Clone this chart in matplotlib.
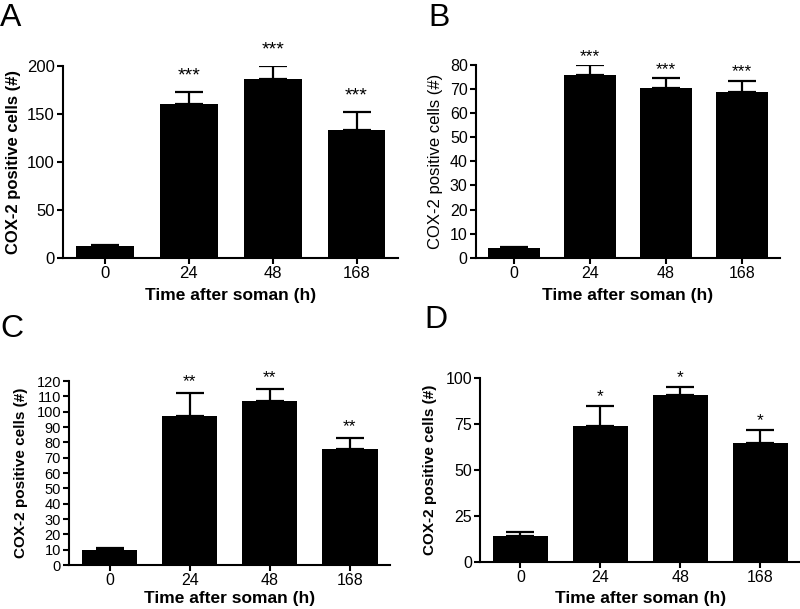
import matplotlib
matplotlib.use("Agg")
import matplotlib.pyplot as plt

plt.rcParams['font.family'] = ['Liberation Sans', 'DejaVu Sans']

timepoints = ["0", "24", "48", "168"]

# panel A
meansA = [12, 160, 186, 133]
errsA = [1, 13, 14, 19]
starsA = ["", "***", "***", "***"]

# panel B
meansB = [4, 76, 70.5, 69]
errsB = [0.5, 4, 4, 4.5]
starsB = ["", "***", "***", "***"]

# panel C
meansC = [10, 97, 107, 75.5]
errsC = [0.8, 15, 8, 7.5]
starsC = ["", "**", "**", "**"]

# panel D
meansD = [14, 74, 90.5, 64.5]
errsD = [2, 10.5, 4.5, 7]
starsD = ["", "*", "*", "*"]


def drawPanel(fig, rect, letter, letterPos, means, errs, stars, yticks, ymax,
              starOffset, starSize, ytickSize, xtickSize, ylabelSize, ylabelBold,
              ylabelX, xlabelPad):
    ax = fig.add_axes(rect)
    x = list(range(len(means)))
    ax.bar(x, means, width=0.69, color='black', zorder=2)
    ax.errorbar(x, means, yerr=[[0] * len(errs), errs], fmt='none',
                ecolor='black', elinewidth=1.6, capsize=10, capthick=1.6, zorder=1)
    for i in range(len(means)):
        if stars[i]:
            ax.text(x[i], means[i] + errs[i] + starOffset, stars[i],
                    ha='center', va='bottom', fontsize=starSize)
    ax.set_xlim(-0.5, 3.5)
    ax.set_ylim(0, ymax)
    ax.set_yticks(yticks)
    ax.set_xticks(x)
    ax.set_xticklabels(timepoints)
    ax.spines['top'].set_visible(False)
    ax.spines['right'].set_visible(False)
    ax.spines['left'].set_linewidth(1.5)
    ax.spines['bottom'].set_linewidth(1.5)
    ax.tick_params(axis='both', direction='out', length=4, width=1.5, pad=2)
    ax.tick_params(axis='y', labelsize=ytickSize)
    ax.tick_params(axis='x', labelsize=xtickSize)
    ax.set_xlabel("Time after soman (h)", fontsize=12.5, fontweight='bold',
                  labelpad=xlabelPad)
    ax.set_ylabel("COX-2 positive cells (#)", fontsize=ylabelSize,
                  fontweight='bold' if ylabelBold else 'normal')
    ax.yaxis.set_label_coords(ylabelX, 0.5)
    fig.text(letterPos[0], letterPos[1], letter, fontsize=23, ha='left', va='top')
    return ax


fig = plt.figure(figsize=(8, 6.09), dpi=100)

drawPanel(fig, [0.079, 0.5768, 0.419, 0.3148], "A", (0.0, 0.995),
          meansA, errsA, starsA, [0, 50, 100, 150, 200], 200,
          8, 14, 12, 12, 12, True, -0.125, 5)
drawPanel(fig, [0.595, 0.5768, 0.38, 0.3164], "B", (0.535, 0.995),
          meansB, errsB, starsB, list(range(0, 81, 10)), 80,
          0.5, 12.5, 11.5, 11.5, 12, False, -0.11, 5)
drawPanel(fig, [0.0868, 0.0722, 0.4007, 0.302], "C", (0.0, 0.485),
          meansC, errsC, starsC, list(range(0, 121, 10)), 120,
          2.5, 12.5, 10.5, 11.5, 11, True, -0.13, 2)
drawPanel(fig, [0.6006, 0.0772, 0.4, 0.3026], "D", (0.53, 0.50),
          meansD, errsD, starsD, [0, 25, 50, 75, 100], 100,
          1, 12.5, 11.5, 11.5, 11, True, -0.135, 4)

fig.savefig("out.png", dpi=100)
